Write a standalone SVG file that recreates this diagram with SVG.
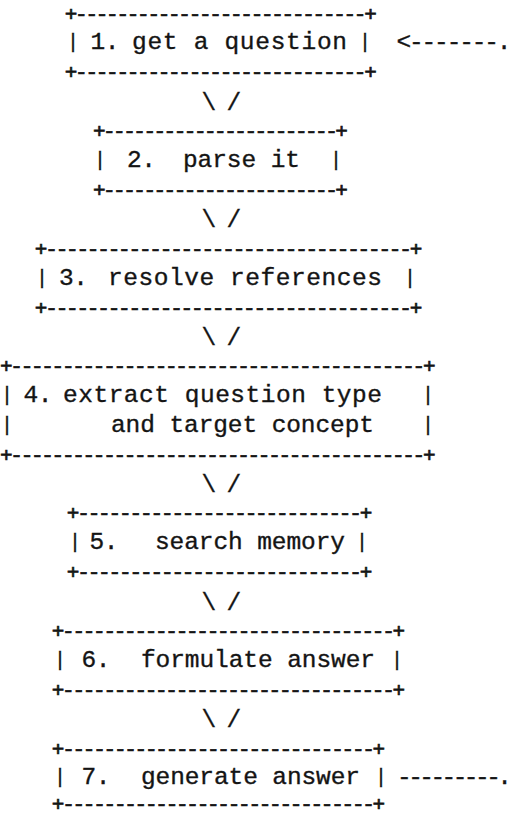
<svg xmlns="http://www.w3.org/2000/svg" width="512" height="815" viewBox="0 0 512 815">
  <style>
    .t { font-family: "Liberation Mono", "DejaVu Sans Mono", monospace; font-size: 24.5px; fill: #141414; stroke: #141414; stroke-width: 0.35; white-space: pre; }
    .edge { font-family: "Liberation Mono", "DejaVu Sans Mono", monospace; font-size: 21px; fill: #141414; stroke: #141414; stroke-width: 0.7; white-space: pre; }
    .bar { font-family: "Liberation Mono", "DejaVu Sans Mono", monospace; font-size: 20px; fill: #141414; stroke: #141414; stroke-width: 0.4; text-anchor: middle; }
  </style>
  <rect width="512" height="815" fill="#ffffff"/>

  <!-- 1. get a question -->
  <g id="node1">
    <text class="edge" x="64.8" y="20.5" textLength="312" lengthAdjust="spacing">+----------------------------+</text>
    <text class="bar" x="73" y="48">|</text>
    <text class="t" y="49.4"><tspan x="90.5" textLength="29" lengthAdjust="spacing">1.</tspan><tspan x="132" textLength="215" lengthAdjust="spacing">get a question</tspan></text>
    <text class="bar" x="365" y="48">|</text>
    <text class="edge" x="64.8" y="79.3" textLength="312" lengthAdjust="spacing">+----------------------------+</text>
  </g>

  <!-- 2. parse it -->
  <g id="node2">
    <text class="edge" x="92.9" y="138.1" textLength="255" lengthAdjust="spacing">+-----------------------+</text>
    <text class="bar" x="100" y="166">|</text>
    <text class="t" y="167"><tspan x="127" textLength="29" lengthAdjust="spacing">2.</tspan><tspan x="183" textLength="117" lengthAdjust="spacing">parse it</tspan></text>
    <text class="bar" x="336" y="166">|</text>
    <text class="edge" x="92.9" y="196.9" textLength="255" lengthAdjust="spacing">+-----------------------+</text>
  </g>

  <!-- 3. resolve references -->
  <g id="node3">
    <text class="edge" x="34.8" y="255.7" textLength="387.5" lengthAdjust="spacing">+-----------------------------------+</text>
    <text class="bar" x="42" y="283.6">|</text>
    <text class="t" y="284.6"><tspan x="59" textLength="29" lengthAdjust="spacing">3.</tspan><tspan x="108" textLength="274" lengthAdjust="spacing">resolve references</tspan></text>
    <text class="bar" x="410" y="283.6">|</text>
    <text class="edge" x="34.8" y="314.5" textLength="387.5" lengthAdjust="spacing">+-----------------------------------+</text>
  </g>

  <!-- 4. extract question type and target concept -->
  <g id="node4">
    <text class="edge" x="0" y="373.3" textLength="435.5" lengthAdjust="spacing">+----------------------------------------+</text>
    <text class="bar" x="7" y="401.2">|</text>
    <text class="t" y="402.2"><tspan x="23.5" textLength="29" lengthAdjust="spacing">4.</tspan><tspan x="63" textLength="319" lengthAdjust="spacing">extract question type</tspan></text>
    <text class="bar" x="428" y="401.2">|</text>
    <text class="bar" x="7" y="430.6">|</text>
    <text class="t" x="111" y="431.6" textLength="263" lengthAdjust="spacing">and target concept</text>
    <text class="bar" x="428" y="430.6">|</text>
    <text class="edge" x="0" y="461.5" textLength="435.5" lengthAdjust="spacing">+----------------------------------------+</text>
  </g>

  <!-- 5. search memory -->
  <g id="node5">
    <text class="edge" x="66.7" y="520.3" textLength="305.7" lengthAdjust="spacing">+---------------------------+</text>
    <text class="bar" x="75" y="548.2">|</text>
    <text class="t" y="549.2"><tspan x="89.5" textLength="29" lengthAdjust="spacing">5.</tspan><tspan x="155" textLength="190" lengthAdjust="spacing">search memory</tspan></text>
    <text class="bar" x="362" y="548.2">|</text>
    <text class="edge" x="66.7" y="579.1" textLength="305.7" lengthAdjust="spacing">+---------------------------+</text>
  </g>

  <!-- 6. formulate answer -->
  <g id="node6">
    <text class="edge" x="51.8" y="637.9" textLength="353.3" lengthAdjust="spacing">+--------------------------------+</text>
    <text class="bar" x="60" y="665.8">|</text>
    <text class="t" y="666.8"><tspan x="81.5" textLength="29" lengthAdjust="spacing">6.</tspan><tspan x="141" textLength="234" lengthAdjust="spacing">formulate answer</tspan></text>
    <text class="bar" x="397" y="665.8">|</text>
    <text class="edge" x="51.8" y="696.7" textLength="353.3" lengthAdjust="spacing">+--------------------------------+</text>
  </g>

  <!-- 7. generate answer -->
  <g id="node7">
    <text class="edge" x="51.8" y="755.5" textLength="333.4" lengthAdjust="spacing">+------------------------------+</text>
    <text class="bar" x="60" y="783.4">|</text>
    <text class="t" y="784.4"><tspan x="81.5" textLength="29" lengthAdjust="spacing">7.</tspan><tspan x="141" textLength="219" lengthAdjust="spacing">generate answer</tspan></text>
    <text class="bar" x="381" y="783.4">|</text>
    <text class="edge" x="51.8" y="810.5" textLength="333.4" lengthAdjust="spacing">+------------------------------+</text>
  </g>

  <!-- downward "\ /" links and the loop back from step 7 to step 1 -->
  <g id="connectors">
    <text class="t" y="109.8"><tspan x="201.6">\</tspan><tspan x="226.6">/</tspan></text>
    <text class="t" y="227.4"><tspan x="201.6">\</tspan><tspan x="226.6">/</tspan></text>
    <text class="t" y="345"><tspan x="201.6">\</tspan><tspan x="226.6">/</tspan></text>
    <text class="t" y="492"><tspan x="201.6">\</tspan><tspan x="226.6">/</tspan></text>
    <text class="t" y="609.6"><tspan x="201.6">\</tspan><tspan x="226.6">/</tspan></text>
    <text class="t" y="727.2"><tspan x="201.6">\</tspan><tspan x="226.6">/</tspan></text>
    <text class="t" x="396.5" y="49.4" textLength="115" lengthAdjust="spacing">&lt;-------.</text>
    <text class="t" x="397" y="784.4" textLength="115" lengthAdjust="spacing">---------.</text>
  </g>
</svg>
